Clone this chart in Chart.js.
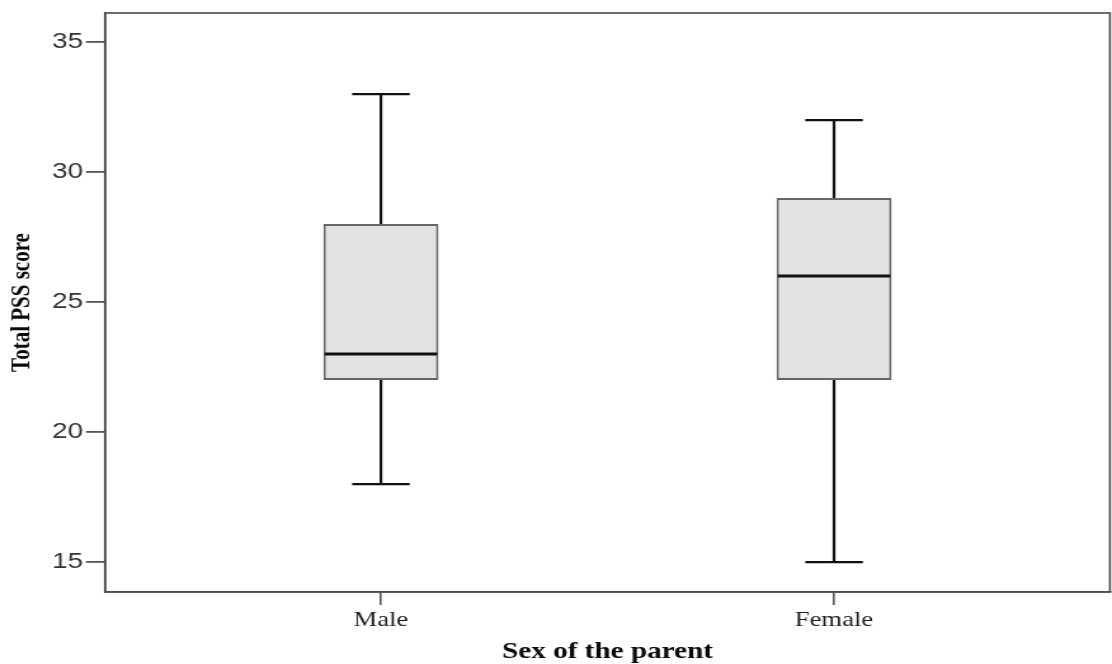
<!DOCTYPE html>
<html>
<head>
<meta charset="utf-8">
<script src="https://cdn.jsdelivr.net/npm/chart.js@4.4.1/dist/chart.umd.min.js"></script>
<style>
  html, body { margin: 0; padding: 0; background: #ffffff; overflow: hidden; }
  /* the figure is laid out on a narrower canvas and widened to the page */
  #plot { display: block; transform: scaleX(1.26941); transform-origin: 0 0; }
</style>
</head>
<body>
<canvas id="plot" width="876" height="664"></canvas>
<script>
// Total PSS score by sex of the parent: five-number summaries
const groups   = ['Male', 'Female'];
const minimum  = [18, 15];
const q1       = [22, 22];
const median   = [23, 26];
const q3       = [28, 29];
const maximum  = [33, 32];
const yTickValues = [15, 20, 25, 30, 35];

const boxData = groups.map((g, i) => ({ x: i + 1, y: [q1[i], q3[i]] }));

// outer frame around the plotting area
const framePlugin = {
  id: 'frame',
  beforeDatasetsDraw(chart) {
    const { ctx, chartArea: a } = chart;
    ctx.save();
    ctx.strokeStyle = '#4a4a4a';
    ctx.lineWidth = 1.6;
    ctx.strokeRect(a.left, a.top, a.right - a.left, a.bottom - a.top);
    ctx.restore();
  }
};

// whiskers, caps and median line for each box
const whiskerPlugin = {
  id: 'whiskers',
  afterDatasetsDraw(chart) {
    const { ctx } = chart;
    const xs = chart.scales.x, ys = chart.scales.y;
    const meta = chart.getDatasetMeta(0);
    ctx.save();
    ctx.strokeStyle = '#111111';
    ctx.lineCap = 'butt';
    groups.forEach((g, i) => {
      const cx = xs.getPixelForValue(i + 1);
      const w = meta.data[i].width;
      const cap = w / 4;
      const yMin = ys.getPixelForValue(minimum[i]);
      const yMax = ys.getPixelForValue(maximum[i]);
      const yQ1 = ys.getPixelForValue(q1[i]);
      const yQ3 = ys.getPixelForValue(q3[i]);
      const yMed = ys.getPixelForValue(median[i]);
      ctx.lineWidth = 2.2;
      ctx.beginPath();
      ctx.moveTo(cx, yQ3); ctx.lineTo(cx, yMax);
      ctx.moveTo(cx, yQ1); ctx.lineTo(cx, yMin);
      ctx.moveTo(cx - cap, yMax); ctx.lineTo(cx + cap, yMax);
      ctx.moveTo(cx - cap, yMin); ctx.lineTo(cx + cap, yMin);
      ctx.stroke();
      ctx.lineWidth = 3;
      ctx.beginPath();
      ctx.moveTo(cx - w / 2 + 1, yMed); ctx.lineTo(cx + w / 2 - 1, yMed);
      ctx.stroke();
    });
    ctx.restore();
  }
};

new Chart(document.getElementById('plot'), {
  type: 'bar',
  data: {
    datasets: [{
      data: boxData,
      backgroundColor: '#e2e2e2',
      borderColor: '#666666',
      borderWidth: 2,
      borderSkipped: false,
      barPercentage: 0.254,
      categoryPercentage: 1
    }]
  },
  options: {
    responsive: false,
    maintainAspectRatio: false,
    animation: false,
    events: [],
    layout: { padding: { top: 13, right: 1.6, left: 0, bottom: 0 } },
    plugins: { legend: { display: false }, tooltip: { enabled: false } },
    scales: {
      x: {
        type: 'linear',
        min: 0.391,
        max: 2.609,
        offset: false,
        afterBuildTicks: s => { s.ticks = groups.map((g, i) => ({ value: i + 1 })); },
        afterFit: s => { s.height = 72; },
        grid: { drawOnChartArea: false, offset: false, tickLength: 13, color: '#555555', lineWidth: 1.6 },
        border: { display: true, color: '#4a4a4a', width: 1.6 },
        ticks: {
          autoSkip: false,
          maxRotation: 0,
          padding: 2.4,
          color: '#1e1e1e',
          font: { family: '"Liberation Serif", "Times New Roman", serif', size: 21 },
          callback: v => groups[v - 1]
        },
        title: {
          display: true,
          text: 'Sex of the parent',
          color: '#0a0a0a',
          padding: { top: 0, bottom: 0 },
          font: { family: '"Liberation Serif", "Times New Roman", serif', size: 23, weight: 'bold', lineHeight: 1.05 }
        }
      },
      y: {
        min: 13.85,
        max: 36.12,
        afterBuildTicks: s => { s.ticks = yTickValues.map(v => ({ value: v })); },
        // the end labels sit well inside the frame, so no extra room is reserved for them
        afterFit: s => { s.width = 82.7; s.paddingTop = 0; s.paddingBottom = 0; },
        grid: { drawOnChartArea: false, tickLength: 15, color: '#555555', lineWidth: 1.8 },
        border: { display: true, color: '#4a4a4a', width: 1.6 },
        ticks: {
          padding: 2.3,
          color: '#333333',
          font: { family: '"Liberation Sans", Arial, sans-serif', size: 22 }
        },
        title: {
          display: true,
          text: 'Total PSS score',
          color: '#0a0a0a',
          padding: { top: 5.4, bottom: 0 },
          font: { family: '"Liberation Serif", "Times New Roman", serif', size: 21, weight: 'bold', lineHeight: 1.2 }
        }
      }
    }
  },
  plugins: [framePlugin, whiskerPlugin]
});
</script>
</body>
</html>
